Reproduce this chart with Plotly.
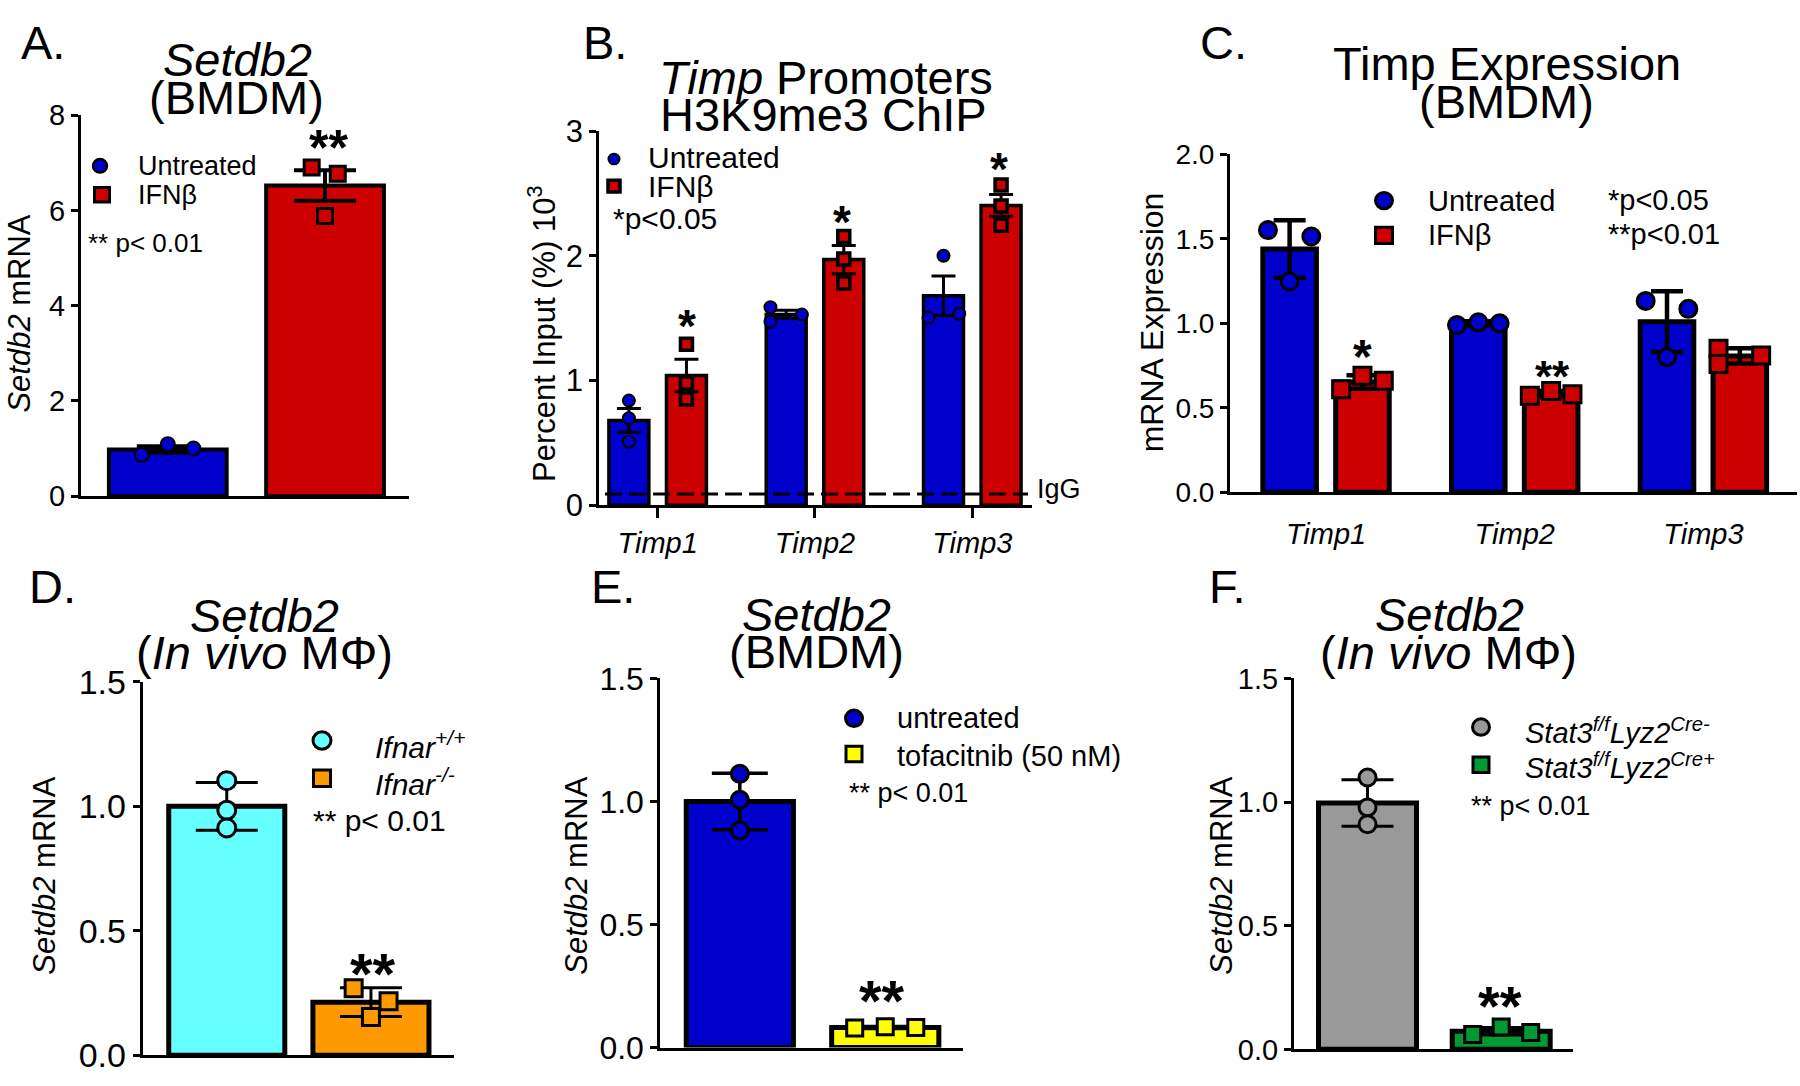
import plotly.graph_objects as go

W, H = 1800, 1086
FONT = "Liberation Sans, Arial, sans-serif"

BLUE = "#0000CC"
RED = "#CC0000"
CYAN = "#66FFFF"
ORANGE = "#FF9900"
YELLOW = "#FFFF00"
GRAY = "#999999"
GREEN = "#009933"

# ---------------- data ----------------
# Panel A: Setdb2 (BMDM), mean +/- SEM
a_groups = ["Untreated", "IFNβ"]
a_means = [0.98, 6.52]
a_sem = [0.07, 0.32]
a_untreated_pts = [0.87, 1.09, 1.00]
a_ifnb_pts = [6.90, 6.77, 5.88]

# Panel B: Timp promoters H3K9me3 ChIP, mean +/- SEM
b_genes = ["Timp1", "Timp2", "Timp3"]
b_untreated_mean = [0.68, 1.53, 1.68]
b_untreated_sem = [0.095, 0.033, 0.158]
b_ifnb_mean = [1.04, 1.97, 2.405]
b_ifnb_sem = [0.13, 0.113, 0.087]
b_untreated_pts = [[0.839, 0.697, 0.509], [1.588, 1.472, 1.529], [2.001, 1.503, 1.536]]
b_ifnb_pts = [[1.291, 0.981, 0.852], [2.156, 1.975, 1.782], [2.569, 2.401, 2.246]]
b_igg = 0.09

# Panel C: Timp expression (BMDM), mean +/- SD
c_genes = ["Timp1", "Timp2", "Timp3"]
c_untreated_mean = [1.44, 1.00, 1.01]
c_untreated_sd = [0.17, 0.012, 0.18]
c_ifnb_mean = [0.653, 0.584, 0.807]
c_ifnb_sd = [0.04, 0.015, 0.045]
c_untreated_pts = [[1.552, 1.514, 1.248], [0.990, 1.006, 1.000], [1.133, 1.086, 0.800]]
c_ifnb_pts = [[0.61, 0.69, 0.66], [0.571, 0.600, 0.581], [0.85, 0.76, 0.81]]

# Panel D: Setdb2 in vivo MPhi, Ifnar
d_groups = ["Ifnar+/+", "Ifnar-/-"]
d_means = [1.00, 0.213]
d_sd = [0.096, 0.058]
d_wt_pts = [1.103, 0.984, 0.913]
d_ko_pts = [0.269, 0.217, 0.153]

# Panel E: Setdb2 BMDM, tofacitinib
e_groups = ["untreated", "tofacitnib (50 nM)"]
e_means = [1.00, 0.082]
e_sd = [0.115, 0.004]
e_ctrl_pts = [1.112, 1.007, 0.882]
e_tofa_pts = [0.080, 0.085, 0.082]

# Panel F: Setdb2 in vivo MPhi, Stat3
f_groups = ["Stat3f/f Lyz2Cre-", "Stat3f/f Lyz2Cre+"]
f_means = [0.997, 0.073]
f_sd = [0.094, 0.015]
f_neg_pts = [1.100, 0.979, 0.911]
f_pos_pts = [0.060, 0.090, 0.068]

# ---------------- helpers ----------------
def fx(px):
    return px / W


def fy(py):
    return 1 - py / H


def ax(n, kind):
    return kind if n == 1 else f"{kind}{n}"


traces = []
shapes = []
annotations = []
layout = {}


def setup_axes(n, xpx, ypx, xrange, yrange, ytickvals, yticktext,
               xtickvals=None, xticktext=None, xticklen=0, xtickcolor="black",
               ticklen=7, tfs=28):
    xa = dict(domain=[fx(xpx[0]), fx(xpx[1])], range=xrange, anchor=ax(n, "y"),
              showline=True, linecolor="black", linewidth=3, showgrid=False,
              zeroline=False, fixedrange=True)
    if xtickvals is None:
        xa.update(showticklabels=False, ticks="")
    else:
        xa.update(tickmode="array", tickvals=xtickvals, ticktext=xticktext,
                  ticks="outside", ticklen=xticklen, tickwidth=3,
                  tickcolor=xtickcolor,
                  tickfont=dict(size=29, color="black", family=FONT))
    ya = dict(domain=[fy(ypx[1]), fy(ypx[0])], range=yrange, anchor=ax(n, "x"),
              showline=True, linecolor="black", linewidth=3, showgrid=False,
              zeroline=False, tickmode="array", tickvals=ytickvals,
              ticktext=yticktext, ticks="outside", ticklen=ticklen, tickwidth=3,
              tickcolor="black", tickfont=dict(size=tfs, color="black", family=FONT),
              fixedrange=True)
    layout["xaxis" if n == 1 else f"xaxis{n}"] = xa
    layout["yaxis" if n == 1 else f"yaxis{n}"] = ya


def bar(n, xs, ys, err, color, width, lw, et, ew, name):
    traces.append(go.Bar(
        x=xs, y=ys, width=width, name=name,
        marker=dict(color=color, line=dict(color="black", width=lw)),
        error_y=dict(type="data", array=err, visible=True, color="black",
                     thickness=et, width=ew),
        xaxis=ax(n, "x"), yaxis=ax(n, "y"), showlegend=False, hoverinfo="skip"))


def pts(n, xs, ys, symbol, color, size, lw, name):
    traces.append(go.Scatter(
        x=xs, y=ys, mode="markers", name=name,
        marker=dict(symbol=symbol, color=color, size=size,
                    line=dict(color="black", width=lw)),
        xaxis=ax(n, "x"), yaxis=ax(n, "y"), showlegend=False, cliponaxis=False,
        hoverinfo="skip"))


def text(x, y, s, size, anchor="left", angle=0):
    annotations.append(dict(
        x=fx(x), y=fy(y), xref="paper", yref="paper", text=s, showarrow=False,
        xanchor=anchor, yanchor="middle", textangle=angle,
        font=dict(size=size, color="black", family=FONT)))


def star(x, y, s, size):
    # y is the visual centre of the asterisk glyphs
    text(x, y + 0.23 * size, f"<b>{s}</b>", size, anchor="center")


def leg_circle(cx, cy, d, color, lw):
    shapes.append(dict(type="circle", xref="paper", yref="paper",
                       x0=fx(cx - d / 2), x1=fx(cx + d / 2),
                       y0=fy(cy + d / 2), y1=fy(cy - d / 2),
                       fillcolor=color, line=dict(color="black", width=lw)))


def leg_square(cx, cy, d, color, lw):
    shapes.append(dict(type="rect", xref="paper", yref="paper",
                       x0=fx(cx - d / 2), x1=fx(cx + d / 2),
                       y0=fy(cy + d / 2), y1=fy(cy - d / 2),
                       fillcolor=color, line=dict(color="black", width=lw)))


def spread(center, offsets):
    return [center + o for o in offsets]


# ---------------- Panel A ----------------
setup_axes(1, (81, 409), (99.3, 494), [-0.552, 1.534], [0, 8.004],
           [0, 2, 4, 6, 8], ["0", "2", "4", "6", "8"], tfs=29)
a_x = [0, 1]
bar(1, a_x, a_means, a_sem, [BLUE, RED], 0.749, 4, 4, 31, "Setdb2")
pts(1, spread(a_x[0], [-0.165, 0.0, 0.163]), a_untreated_pts, "circle", BLUE, 14, 2, a_groups[0])
pts(1, spread(a_x[1], [-0.085, 0.081, 0.0]), a_ifnb_pts, "square", RED, 15, 3, a_groups[1])
text(19, 24, "A.", 47)
text(238, 42, "<i>Setdb2</i>", 47, anchor="center")
text(236, 81, "(BMDM)", 47, anchor="center")
text(20, 305, "<i>Setdb2</i> mRNA", 31, anchor="center", angle=-90)
leg_circle(100, 152, 14, BLUE, 2.5)
leg_square(102, 182, 15, RED, 3)
text(136, 152, a_groups[0], 27)
text(136, 182, a_groups[1], 27)
text(86, 232, "** p&lt; 0.01", 26)
star(328, 122, "**", 50)

# ---------------- Panel B ----------------
b_off, b_w = 0.183, 0.254
b_g = [0, 1, 2]
setup_axes(2, (599.3, 1031.6), (116, 503.3), [-0.371, 2.377], [0, 3.0015],
           [0, 1, 2, 3], ["0", "1", "2", "3"],
           xtickvals=b_g, xticktext=[f"<i>{g}</i>" for g in b_genes],
           xticklen=10, ticklen=7, tfs=31)
b_ux = [g - b_off for g in b_g]
b_ix = [g + b_off for g in b_g]
bar(2, b_ux, b_untreated_mean, b_untreated_sem, BLUE, b_w, 3.5, 3, 12, "Untreated")
bar(2, b_ix, b_ifnb_mean, b_ifnb_sem, RED, b_w, 3.5, 3, 12, "IFNβ")
b_u_offsets = [[0, 0, 0], [-0.1, -0.1, 0.1], [0, -0.095, 0.1]]
b_i_offsets = [[0, 0, 0], [0, 0, 0], [0, 0, 0]]
for i in range(3):
    pts(2, spread(b_ux[i], b_u_offsets[i]), b_untreated_pts[i], "circle", BLUE, 12, 2, "Untreated")
    pts(2, spread(b_ix[i], b_i_offsets[i]), b_ifnb_pts[i], "square", RED, 12, 3.5, "IFNβ")
shapes.append(dict(type="line", xref="paper", yref="y2", x0=fx(605), x1=fx(1028),
                   y0=b_igg, y1=b_igg, line=dict(color="black", width=3, dash="17px,7px")))
text(1035, 487, "IgG", 27)
text(581, 24, "B.", 47)
text(826, 61, "<i>Timp</i> Promoters", 47, anchor="center")
text(823, 99, "H3K9me3 ChIP", 47, anchor="center")
text(542, 326, "Percent Input (%) 10<sup>3</sup>", 31, anchor="center", angle=-90)
leg_circle(614, 145, 11, BLUE, 2)
leg_square(614, 173, 12, RED, 3.5)
text(646, 143, "Untreated", 30)
text(646, 173, "IFNβ", 30)
text(611, 207, "*p&lt;0.05", 30)
star(687, 307, "*", 46)
star(842, 200, "*", 46)
star(999, 145, "*", 46)

# ---------------- Panel C ----------------
c_off, c_w = 0.193, 0.284
c_g = [0, 1, 2]
setup_axes(3, (1230, 1797), (140, 490), [-0.509, 2.496], [0, 2.001],
           [0, 0.5, 1.0, 1.5, 2.0], ["0.0", "0.5", "1.0", "1.5", "2.0"],
           xtickvals=c_g, xticktext=[f"<i>{g}</i>" for g in c_genes],
           xticklen=14, xtickcolor="rgba(0,0,0,0)", ticklen=7, tfs=28)
c_ux = [g - c_off for g in c_g]
c_ix = [g + c_off for g in c_g]
bar(3, c_ux, c_untreated_mean, c_untreated_sd, BLUE, c_w, 5, 4.5, 16, "Untreated")
bar(3, c_ix, c_ifnb_mean, c_ifnb_sd, RED, c_w, 5, 4.5, 16, "IFNβ")
c_u_offsets = [[-0.115, 0.115, 0], [-0.113, 0, 0.113], [-0.113, 0.113, 0]]
c_i_offsets = [[-0.113, 0, 0.113], [-0.113, 0, 0.113], [-0.113, -0.113, 0.113]]
for i in range(3):
    pts(3, spread(c_ux[i], c_u_offsets[i]), c_untreated_pts[i], "circle", BLUE, 17, 3, "Untreated")
    pts(3, spread(c_ix[i], c_i_offsets[i]), c_ifnb_pts[i], "square", RED, 17, 3, "IFNβ")
text(1198, 24, "C.", 47)
text(1507, 46, "Timp Expression", 47, anchor="center")
text(1506, 85, "(BMDM)", 47, anchor="center")
text(1152, 314, "mRNA Expression", 32, anchor="center", angle=-90)
leg_circle(1384, 188, 17, BLUE, 3)
leg_square(1384, 224, 17, RED, 3)
text(1426, 188, "Untreated", 29)
text(1426, 224, "IFNβ", 29)
text(1606, 187, "*p&lt;0.05", 29)
text(1606, 223, "**p&lt;0.01", 29)
star(1362, 338, "*", 48)
star(1552, 360, "**", 44)

# ---------------- Panel D ----------------
setup_axes(4, (142.7, 454), (686, 1072.7), [-0.583, 1.576], [0, 1.5008],
           [0, 0.5, 1.0, 1.5], ["0.0", "0.5", "1.0", "1.5"], tfs=34)
d_x = [0, 1]
bar(4, d_x, d_means, d_sd, [CYAN, ORANGE], 0.805, 5, 3, 31, "Setdb2")
pts(4, spread(d_x[0], [0, 0, 0]), d_wt_pts, "circle", CYAN, 18, 3, d_groups[0])
pts(4, spread(d_x[1], [-0.12, 0.122, 0.0]), d_ko_pts, "square", ORANGE, 17, 3, d_groups[1])
text(27, 587, "D.", 47)
text(264, 618, "<i>Setdb2</i>", 47, anchor="center")
text(264, 656, "(<i>In vivo</i> MΦ)", 47, anchor="center")
text(45, 887, "<i>Setdb2</i> mRNA", 31, anchor="center", angle=-90)
leg_circle(322, 747, 18, CYAN, 3)
leg_square(322, 786, 17, ORANGE, 3)
text(373, 752, "<i>Ifnar<sup>+/+</sup></i>", 30)
text(373, 790, "<i>Ifnar<sup>-/-</sup></i>", 30)
text(311, 830, "** p&lt; 0.01", 30)
star(373, 975, "**", 58)

# ---------------- Panel E ----------------
setup_axes(5, (660.3, 962.6), (682.4, 1064.9), [-0.547, 1.532], [0, 1.5008],
           [0, 0.5, 1.0, 1.5], ["0.0", "0.5", "1.0", "1.5"], tfs=32)
e_x = [0, 1]
bar(5, e_x, e_means, e_sd, [BLUE, YELLOW], 0.737, 5, 3.5, 28, "Setdb2")
pts(5, spread(e_x[0], [0, 0, 0]), e_ctrl_pts, "circle", BLUE, 17, 3, e_groups[0])
pts(5, spread(e_x[1], [-0.21, 0.0, 0.21]), e_tofa_pts, "square", YELLOW, 16, 3, e_groups[1])
text(589, 587, "E.", 47)
text(816, 616, "<i>Setdb2</i>", 47, anchor="center")
text(816, 655, "(BMDM)", 47, anchor="center")
text(577, 887, "<i>Setdb2</i> mRNA", 31, anchor="center", angle=-90)
leg_circle(854, 724, 17, BLUE, 3)
leg_square(854, 761, 16, YELLOW, 3)
text(895, 724, e_groups[0], 29)
text(895, 763, e_groups[1], 29)
text(847, 801, "** p&lt; 0.01", 27)
star(882, 1003, "**", 58)

# ---------------- Panel F ----------------
setup_axes(6, (1294, 1572.7), (682.7, 1066.7), [-0.55, 1.535], [0, 1.5008],
           [0, 0.5, 1.0, 1.5], ["0.0", "0.5", "1.0", "1.5"], tfs=29)
f_x = [0, 1]
bar(6, f_x, f_means, f_sd, [GRAY, GREEN], 0.733, 5, 3, 26, "Setdb2")
pts(6, spread(f_x[0], [0, 0, 0]), f_neg_pts, "circle", GRAY, 17, 3, f_groups[0])
pts(6, spread(f_x[1], [-0.213, 0.0, 0.221]), f_pos_pts, "square", GREEN, 16, 3, f_groups[1])
text(1207, 587, "F.", 47)
text(1449, 617, "<i>Setdb2</i>", 47, anchor="center")
text(1448, 656, "(<i>In vivo</i> MΦ)", 47, anchor="center")
text(1222, 887, "<i>Setdb2</i> mRNA", 31, anchor="center", angle=-90)
leg_circle(1481, 733, 17, GRAY, 3)
leg_square(1481, 772, 16, GREEN, 3)
text(1523, 737, "<i>Stat3<sup>f/f</sup>Lyz2<sup>Cre-</sup></i>", 29)
text(1523, 773, "<i>Stat3<sup>f/f</sup>Lyz2<sup>Cre+</sup></i>", 29)
text(1469, 815, "** p&lt; 0.01", 27)
star(1500, 1008, "**", 56)

fig = go.Figure(data=traces)
fig.update_layout(
    width=W, height=H, margin=dict(l=0, r=0, t=0, b=0),
    paper_bgcolor="white", plot_bgcolor="white",
    showlegend=False, barmode="overlay",
    font=dict(family=FONT, color="black"),
    shapes=shapes, annotations=annotations,
    **layout)
fig.write_html(
    "out.html",
    config={"displayModeBar": False},
    post_script="document.body.style.margin='0';document.body.style.overflow='hidden';",
)
